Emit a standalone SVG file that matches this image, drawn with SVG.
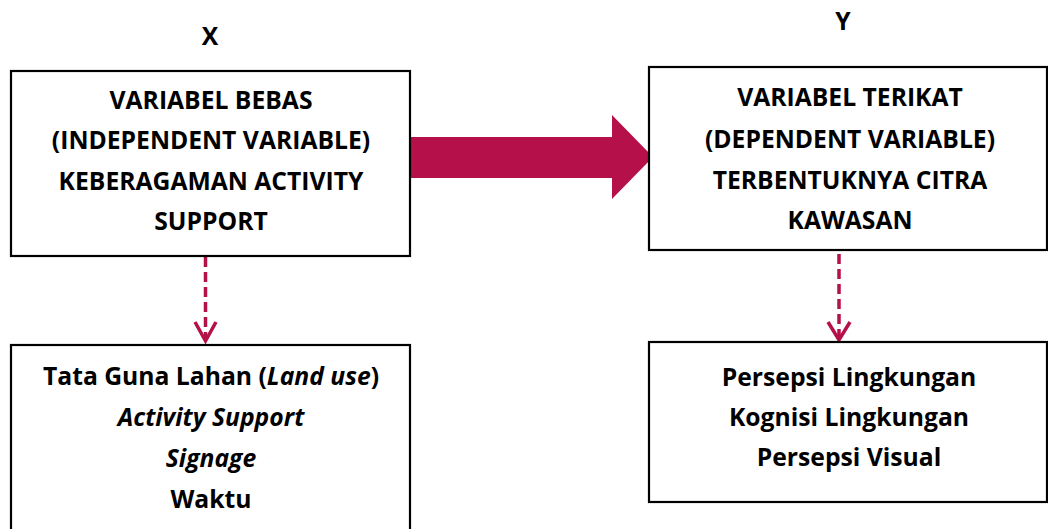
<svg xmlns="http://www.w3.org/2000/svg" width="1048" height="529" viewBox="0 0 1048 529">
<style>
.box{fill:#fff;stroke:#000;stroke-width:2.2}
.t{font-family:"Open Sans","Liberation Sans",sans-serif;font-weight:bold;font-size:24.7px;fill:#000;text-anchor:middle}
.i{font-style:italic}
.dash{fill:none;stroke:#B5104A;stroke-width:3.5;stroke-dasharray:10,5}
.head{fill:none;stroke:#B5104A;stroke-width:3.5}
</style>
<rect width="1048" height="529" fill="#fff"/>
<text class="t" x="210" y="45">X</text>
<text class="t" x="843" y="30">Y</text>
<g id="connectors">
<polygon points="407,137 612,137 612,115 653,157 612,199 612,178 407,178" fill="#B5104A"/>
<line class="dash" x1="205.5" y1="257" x2="205.5" y2="340"/>
<polyline class="head" points="195,322 205.5,341 216,322"/>
<line class="dash" x1="839" y1="254" x2="839" y2="338"/>
<polyline class="head" points="828,322 839,340 850,322"/>
</g>
<g id="node-x">
<rect class="box" x="11" y="71" width="399" height="185"/>
<text class="t" x="211" y="109">VARIABEL BEBAS</text>
<text class="t" x="211" y="149">(INDEPENDENT VARIABLE)</text>
<text class="t" x="211" y="190">KEBERAGAMAN ACTIVITY</text>
<text class="t" x="211" y="230">SUPPORT</text>
</g>
<g id="node-y">
<rect class="box" x="649" y="67" width="398" height="183"/>
<text class="t" x="850" y="105.5">VARIABEL TERIKAT</text>
<text class="t" x="850" y="147.5">(DEPENDENT VARIABLE)</text>
<text class="t" x="850" y="188.5">TERBENTUKNYA CITRA</text>
<text class="t" x="850" y="229">KAWASAN</text>
</g>
<g id="node-x-indicators">
<rect class="box" x="11" y="345" width="399" height="200"/>
<text class="t" x="211" y="385">Tata Guna Lahan (<tspan class="i">Land use</tspan>)</text>
<text class="t i" x="211" y="426">Activity Support</text>
<text class="t i" x="211" y="467">Signage</text>
<text class="t" x="211" y="508">Waktu</text>
</g>
<g id="node-y-indicators">
<rect class="box" x="649" y="342" width="398" height="160"/>
<text class="t" x="849" y="385.5">Persepsi Lingkungan</text>
<text class="t" x="849" y="426">Kognisi Lingkungan</text>
<text class="t" x="849" y="466">Persepsi Visual</text>
</g>
</svg>
